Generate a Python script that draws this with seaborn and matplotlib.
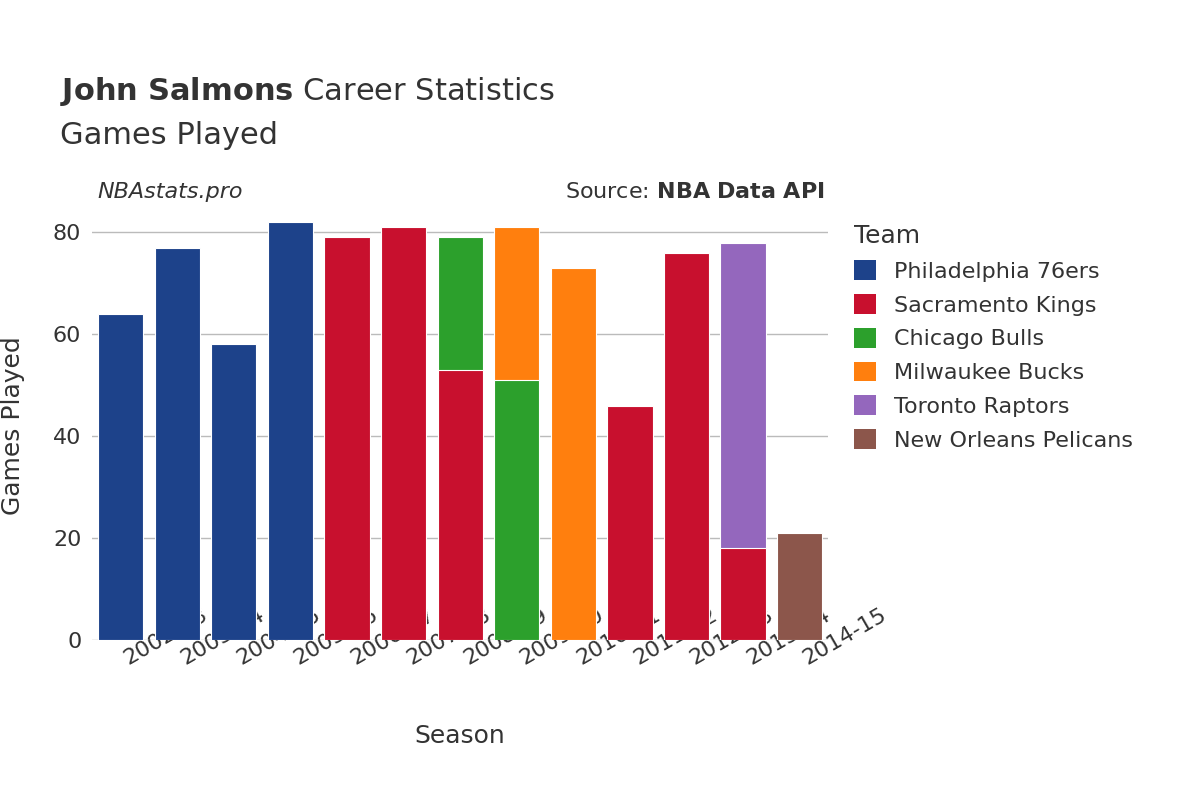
import matplotlib
matplotlib.use("Agg")
import matplotlib.pyplot as plt
import seaborn as sns
import pandas as pd
from matplotlib.patches import Patch

seasons = ["2002-03","2003-04","2004-05","2005-06","2006-07","2007-08","2008-09",
           "2009-10","2010-11","2011-12","2012-13","2013-14","2014-15"]
# stacked segments per season (bottom to top)
seg_season = ["2002-03","2003-04","2004-05","2005-06","2006-07","2007-08","2008-09","2008-09",
              "2009-10","2009-10","2010-11","2011-12","2012-13","2013-14","2013-14","2014-15"]
seg_team = ["Philadelphia 76ers"]*4 + ["Sacramento Kings","Sacramento Kings","Sacramento Kings","Chicago Bulls",
            "Chicago Bulls","Milwaukee Bucks","Milwaukee Bucks","Sacramento Kings","Sacramento Kings",
            "Sacramento Kings","Toronto Raptors","New Orleans Pelicans"]
seg_games = [64,77,58,82,79,81,53,26,51,30,73,46,76,18,60,21]

teams = ["Philadelphia 76ers","Sacramento Kings","Chicago Bulls","Milwaukee Bucks","Toronto Raptors","New Orleans Pelicans"]
colors = ["#1d428a","#c8102e","#2ca02c","#ff7f0e","#9467bd","#8c564b"]
palette = dict(zip(teams, colors))

df = pd.DataFrame({"Season": seg_season, "Team": seg_team, "Games": seg_games})
df["Top"] = df.groupby("Season")["Games"].cumsum()
df["Layer"] = df.groupby("Season").cumcount()

fig = plt.figure(figsize=(12, 8), dpi=100)
ax = fig.add_axes([0.077, 0.2, 0.613, 0.535])
for layer in sorted(df["Layer"].unique(), reverse=True):
    sub = df[df["Layer"] == layer]
    sns.barplot(data=sub, x="Season", y="Top", hue="Team", palette=palette, order=seasons,
                dodge=False, width=0.8, ax=ax, legend=False, edgecolor="white", linewidth=0.8,
                saturation=1)

ax.set_ylim(0, 84)
ax.set_xlim(-0.5, len(seasons) - 0.5)
ax.set_yticks([0, 20, 40, 60, 80])
ax.grid(axis="y", color="#bbbbbb", linewidth=1)
ax.set_axisbelow(True)
for s in ax.spines.values():
    s.set_visible(False)
ax.tick_params(axis="both", length=0, labelsize=16, colors="#333333", pad=8)
plt.setp(ax.get_xticklabels(), rotation=30, ha="left", rotation_mode="anchor")
ax.set_xlabel("Season", fontsize=18, color="#333333", labelpad=40)
ax.set_ylabel("Games Played", fontsize=18, color="#333333", labelpad=20)

fig.text(0.05, 0.875, r"$\bf{John\ Salmons}$ Career Statistics", fontsize=22, color="#333333")
fig.text(0.05, 0.82, "Games Played", fontsize=22, color="#333333")
fig.text(0.081, 0.752, "NBAstats.pro", fontsize=16, style="italic", color="#333333")
fig.text(0.687, 0.752, r"Source: $\bf{NBA\ Data\ API}$", fontsize=16, color="#333333", ha="right")

handles = [Patch(facecolor=c, label=t) for t, c in zip(teams, colors)]
leg = fig.legend(handles=handles, loc="upper left", bbox_to_anchor=(0.695, 0.745), frameon=False,
                 fontsize=16, title="Team", title_fontsize=18, labelcolor="#333333",
                 handlelength=1.0, handleheight=1.0, labelspacing=0.55, alignment="left")
leg.get_title().set_color("#333333")

fig.savefig("out.png", dpi=100)
